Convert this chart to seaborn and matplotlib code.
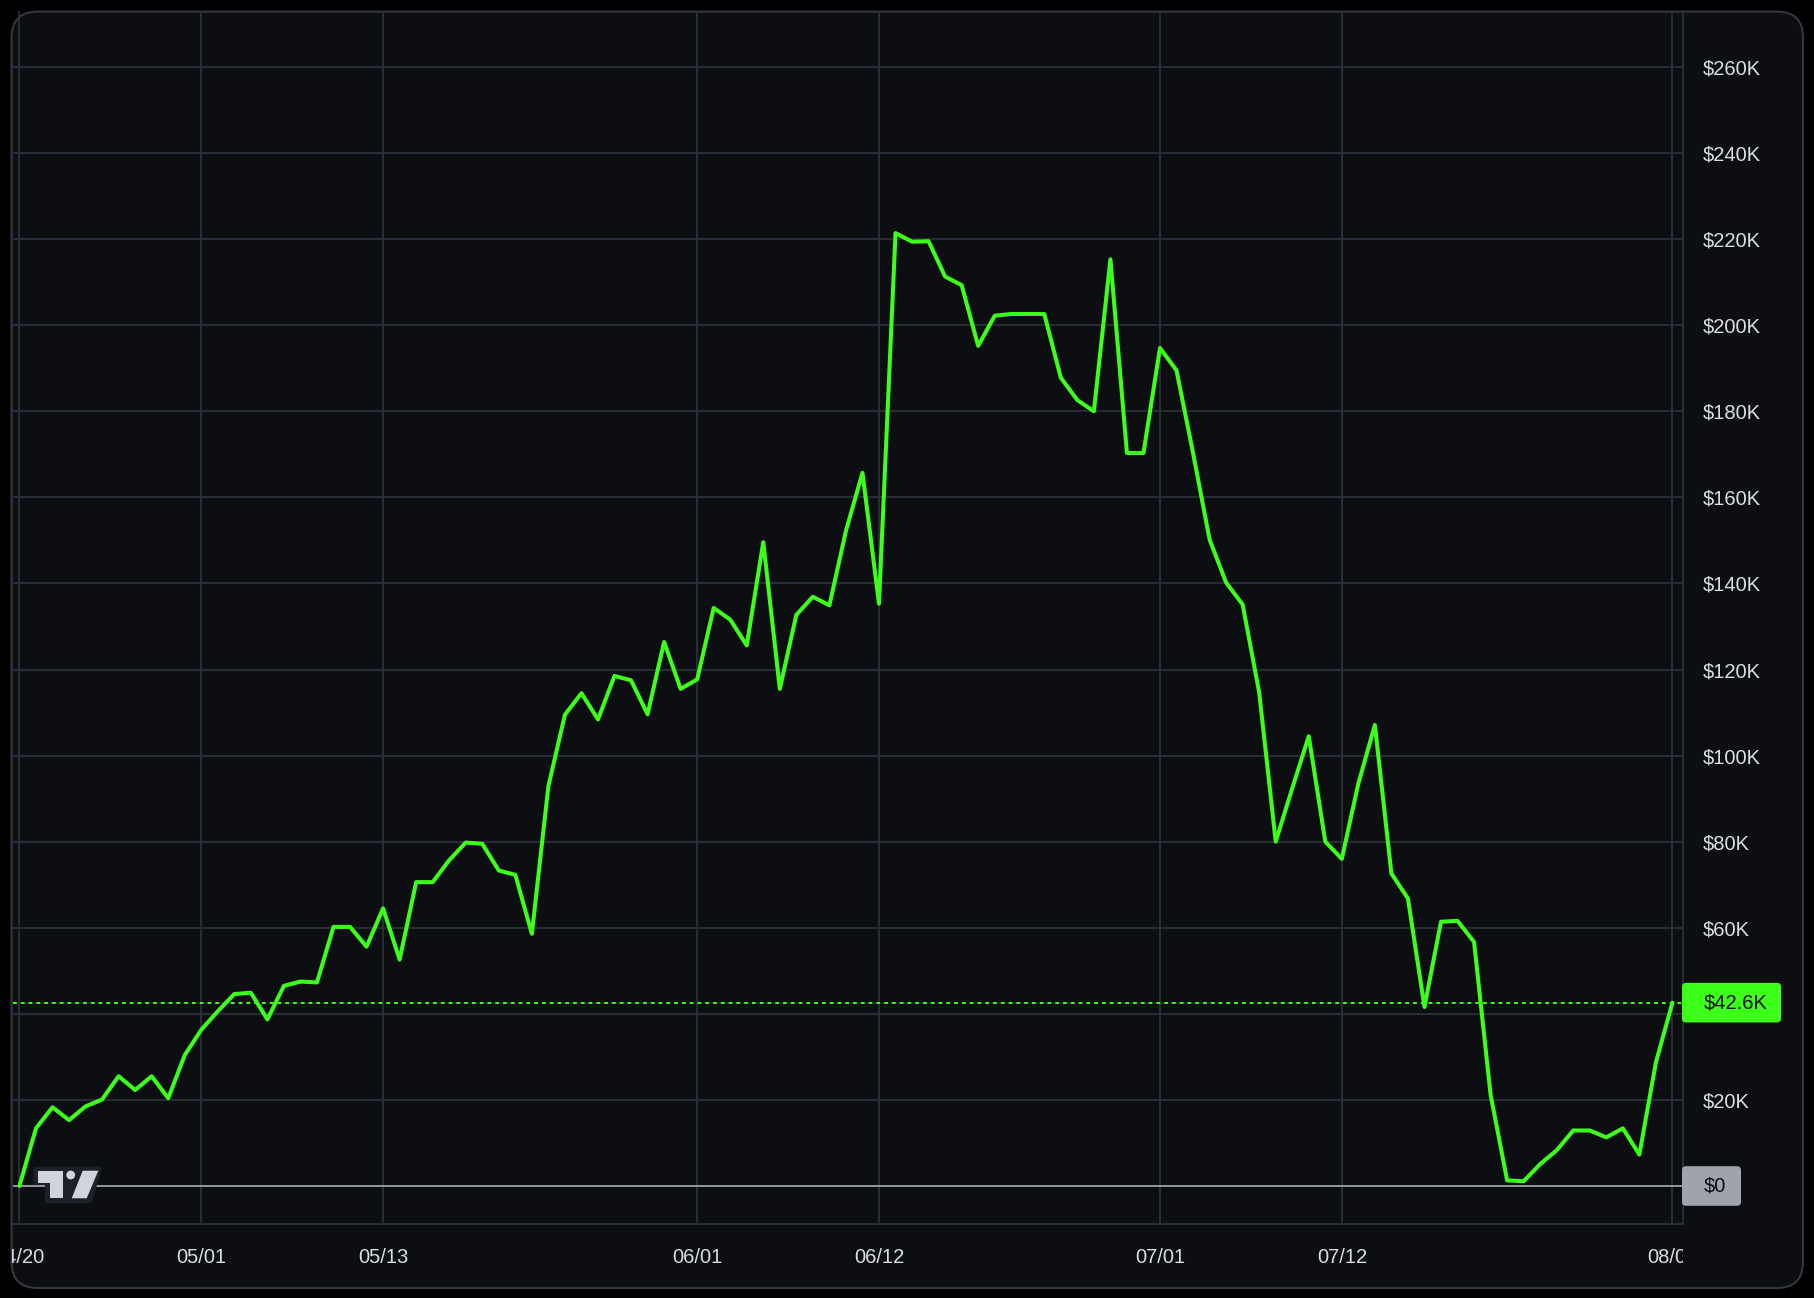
import matplotlib
matplotlib.use("Agg")
import matplotlib.pyplot as plt
import matplotlib.patches as mpatches
import matplotlib.transforms as mtransforms
from matplotlib.ticker import FuncFormatter
import seaborn as sns
import pandas as pd

# daily balance in thousands of dollars (one point per bar)
values_k = [0, 13.4, 18.3, 15.3, 18.5, 20.1, 25.5, 22.3, 25.5, 20.4,
            30.4, 36.3, 40.6, 44.6, 44.9, 38.7, 46.5, 47.5, 47.3, 60.2,
            60.2, 55.6, 64.5, 52.6, 70.6, 70.6, 75.7, 79.8, 79.5, 73.3,
            72.3, 58.6, 92.9, 109.5, 114.5, 108.4, 118.5, 117.5, 109.6, 126.4,
            115.5, 117.7, 134.3, 131.6, 125.6, 149.6, 115.5, 132.7, 136.9, 134.9,
            152.2, 165.7, 135.3, 221.4, 219.4, 219.5, 211.3, 209.3, 195.2, 202.2,
            202.6, 202.6, 202.6, 187.8, 182.6, 180.0, 215.3, 170.3, 170.3, 194.7,
            189.5, 170.3, 150.2, 140.2, 135.1, 114.7, 80.0, 92.4, 104.5, 80.0,
            76.0, 93.5, 107.1, 72.6, 66.8, 41.6, 61.4, 61.6, 56.7, 21.2,
            1.3, 1.1, 5.1, 8.3, 12.9, 12.9, 11.3, 13.4, 7.3, 28.7, 42.6]
bar_index = list(range(len(values_k)))

date_ticks = [0, 11, 22, 41, 52, 69, 80, 100]
date_labels = ["04/20", "05/01", "05/13", "06/01", "06/12", "07/01", "07/12", "08/01"]
price_ticks = list(range(20, 261, 20))
hidden_ticks = [40]  # covered by the last-value label
last_value = 42.6

df = pd.DataFrame({"bar": bar_index, "value": values_k})

BG = "#000000"
PANEL = "#0c0e12"
GRID = "#2c303b"
TEXT = "#dadde4"
GREEN = "#3cff1a"

sns.set_theme(style="dark")
plt.rcParams["font.family"] = ["Liberation Sans", "DejaVu Sans"]

W, H = 1814, 1298
fig = plt.figure(figsize=(W / 100, H / 100), dpi=100, facecolor=BG)
ident = mtransforms.IdentityTransform()

# rounded panel behind everything
frame = mpatches.FancyBboxPatch((11.6, 10), 1791.4, 1276.4,
                                boxstyle="round,pad=0,rounding_size=26",
                                transform=ident, facecolor=PANEL,
                                edgecolor="#34373e", linewidth=1.5, zorder=-5)
fig.add_artist(frame)

ax = fig.add_axes([13 / W, 1 - 1224 / H, (1683 - 13) / W, (1224 - 11) / H])
ax.patch.set_visible(False)

sns.lineplot(data=df, x="bar", y="value", ax=ax, color=GREEN, linewidth=2.9, zorder=5)

ax.set_xlim(-0.39, 100.64)
ax.set_ylim(-8.83, 273.0)

ax.axhline(0, color="#9fa2aa", linewidth=1.3, zorder=3)
ax.axhline(last_value, color=GREEN, linewidth=1.4, linestyle=(0, (2, 2)), zorder=3)

ax.yaxis.tick_right()
ax.set_yticks(price_ticks)
ax.yaxis.set_major_formatter(FuncFormatter(lambda v, p: "" if round(v) in hidden_ticks else f"${v:.0f}K"))
ax.set_xticks(date_ticks, date_labels)
ax.tick_params(axis="y", length=0, pad=14, labelsize=14.5, labelcolor=TEXT)
ax.tick_params(axis="x", length=0, pad=17, labelsize=14.5, labelcolor=TEXT)
for lbl in ax.get_yticklabels():
    lbl.set_horizontalalignment("left")
ax.set_xlabel("")
ax.set_ylabel("")

ax.grid(True, color=GRID, linewidth=1.3)
ax.set_axisbelow(True)
for side in ["left", "top"]:
    ax.spines[side].set_visible(False)
for side in ["right", "bottom"]:
    ax.spines[side].set_visible(True)
    ax.spines[side].set_color(GRID)
    ax.spines[side].set_linewidth(1.3)

# cut the date labels at the panel edge and price scale
clip = mtransforms.TransformedBbox(mtransforms.Bbox([[11.6 / W, 0], [1683 / W, 1]]), fig.transFigure)
for lbl in ax.get_xticklabels():
    lbl.set_clip_on(True)
    lbl.set_clip_box(clip)

# price labels on the scale (boxes in pixels, centred on the data value)
blend = mtransforms.blended_transform_factory(fig.transFigure, ax.transData)
for val, text, face, right in [(last_value, f"${last_value}K", GREEN, 1781),
                               (0, "$0", "#a0a3ab", 1741)]:
    yc = ax.transData.transform((0, val))[1]
    box = mpatches.FancyBboxPatch((1682, yc - 19.8), right - 1682, 39.6,
                                  boxstyle="round,pad=0,rounding_size=4",
                                  transform=ident, facecolor=face, edgecolor="none", zorder=6)
    fig.add_artist(box)
    fig.text(1704 / W, val, text, transform=blend, ha="left", va="center",
             fontsize=14.5, color="#0c0e12", zorder=7)

# small watermark logo, bottom left
backing = mpatches.Polygon([(33.3, 131.3), (102, 131.3), (91.7, 94.7), (45, 94.7), (45, 113), (33.3, 113)],
                           transform=ident, facecolor="#1c2029", edgecolor="none", zorder=7)
fig.add_artist(backing)
logo_parts = [
    mpatches.Rectangle((38.3, 114.7), 25, 12.6),
    mpatches.Rectangle((50, 99.7), 13.3, 15.5),
    mpatches.Circle((70.7, 123), 4.4),
    mpatches.Polygon([(82.7, 127.3), (98.3, 127.3), (86.7, 99.7), (71.7, 99.7)]),
]
for part in logo_parts:
    part.set_transform(ident)
    part.set_facecolor("#d1d4dc")
    part.set_edgecolor("none")
    part.set_zorder(8)
    fig.add_artist(part)

fig.savefig("out.png", dpi=100, facecolor=BG)
